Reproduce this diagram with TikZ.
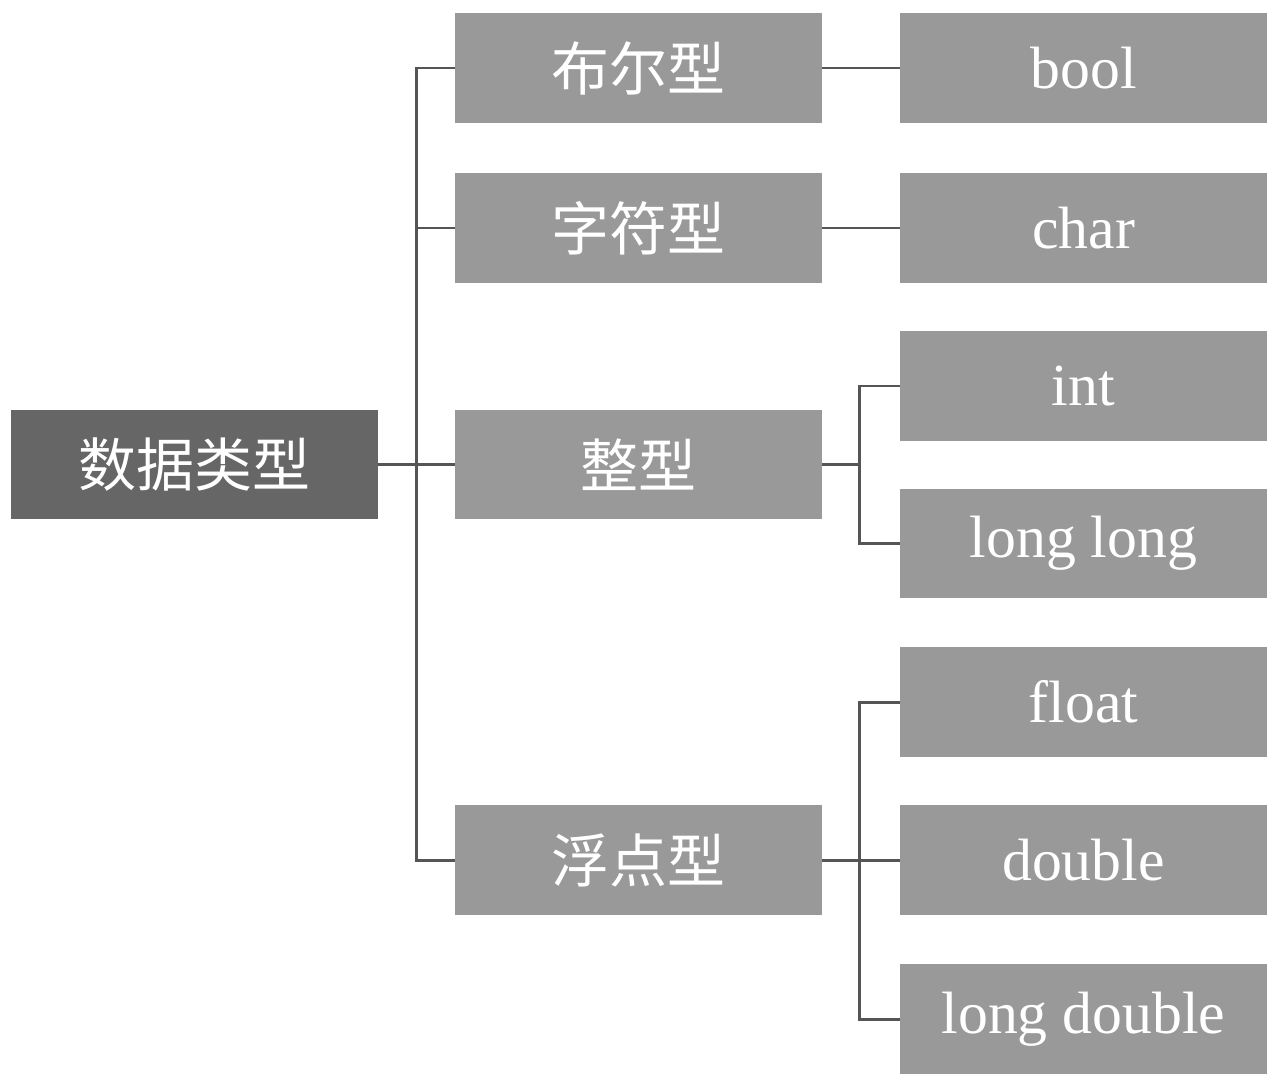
\documentclass[tikz,border=0pt]{standalone}
\usepackage{fontspec}
\setmainfont{Liberation Serif}
\newfontfamily\cjk{Noto Sans CJK SC}
\definecolor{rootgray}{HTML}{666666}
\definecolor{boxgray}{HTML}{999999}
\definecolor{linkgray}{HTML}{555555}

\begin{document}
\begin{tikzpicture}[x=0.02cm, y=-0.02cm,
    box/.style={fill=boxgray, text=white, minimum width=7.34cm, minimum height=2.2cm, inner sep=0pt,
                font=\fontsize{34}{40}\selectfont},
    cn/.style={font=\cjk\fontsize{33}{40}\selectfont},
    link/.style={draw=linkgray, line width=1.7pt}]
      \useasboundingbox (0,0) rectangle (1280,1081);
      \node[box, cn, fill=rootgray] (root) at (194.5,464.5) {数据类型};
      \coordinate (trunk) at (416,464.5);
      \draw[link] (root.east) -- (trunk);
      \foreach \y/\name/\txt in {68/bool/布尔型, 228/char/字符型, 464.5/int/整型, 860/float/浮点型} {
        \node[box, cn]   (m\name) at (638.5,\y) {\txt};
        \draw[link]      (trunk) |- (m\name.west);
      }
      \foreach \y/\name/\txt in {68/bool/bool, 228/char/char, 386/int/int, 543.5/ll/long long,
                                 702/flt/float, 860/dbl/double, 1019/ldbl/long double} {
        \node[box]       (r\name) at (1083.5,\y) {\txt};
      }
      \draw[link] (mbool.east) -- (rbool.west);
      \draw[link] (mchar.east) -- (rchar.west);
      \coordinate (jint) at (859,464.5);
      \draw[link] (mint.east) -- (jint);
      \foreach \name in {int, ll}
        \draw[link] (jint) |- (r\name.west);
      \coordinate (jflt) at (859,860);
      \draw[link] (mfloat.east) -- (jflt);
      \foreach \name in {flt, dbl, ldbl}
        \draw[link] (jflt) |- (r\name.west);
    \end{tikzpicture}
\end{document}
